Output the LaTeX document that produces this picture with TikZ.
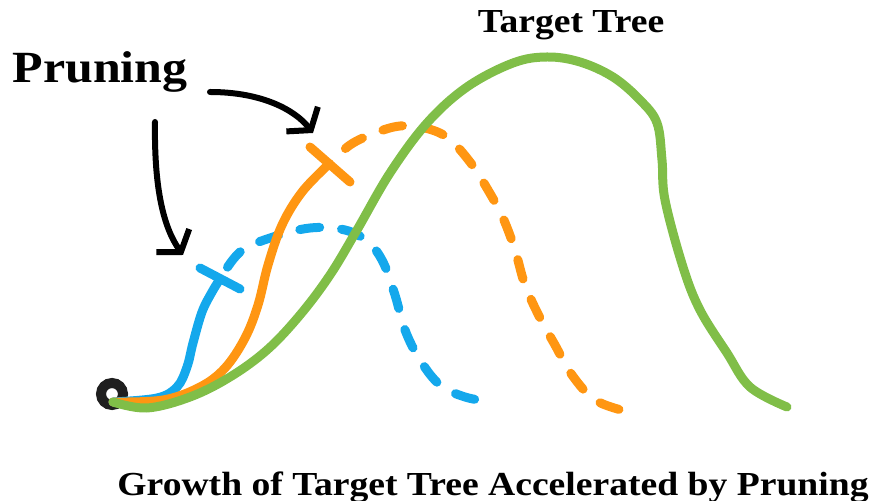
\documentclass[tikz,border=0pt]{standalone}
\usepackage{fontspec}
\setmainfont{Liberation Serif}[FakeStretch=1.12]
\usetikzlibrary{arrows.meta}

\definecolor{treeblue}{RGB}{20,168,236}
\definecolor{treeorange}{RGB}{255,150,18}
\definecolor{treegreen}{RGB}{128,190,72}

\begin{document}
\begin{tikzpicture}[x=0.5pt,y=-0.5pt,
	growth/.style={line width=4.5pt,line cap=round,line join=round},
	dashgrowth/.style={growth,dash pattern=on 10pt off 11pt,dash phase=#1},
	dashgrowth/.default=14pt,
	pointer/.style={line width=3pt,line cap=round,
		-{Straight Barb[length=7pt,width=20pt,line width=3pt]}}]
	\useasboundingbox (0,0) rectangle (887,501);

	\begin{scope}[every node/.style={inner sep=0pt,anchor=base,font=\bfseries}]
		\node[font=\fontsize{22.3}{26}\selectfont\bfseries] (prune) at (100,83) {Pruning};
		\node[font=\fontsize{16.8}{20}\selectfont\bfseries] (target) at (571,33) {Target Tree};
		\node[font=\fontsize{16.8}{20}\selectfont\bfseries] (caption) at (493,495) {Growth of Target Tree Accelerated by Pruning};
	\end{scope}

	% start point
	\draw[line width=5pt,black!88] (112,394) circle (11);
	\coordinate (seed) at (113,402);

	% pruned cuts
	\coordinate (cutA) at (220,279);
	\coordinate (cutB) at (328,165);
	\draw[growth,treeblue] (200,268) -- (240,289);
	\draw[growth,treeorange] (310,147) -- (350,182);

	% blue
	\draw[growth,treeblue] plot[smooth,tension=0.6] coordinates {(seed) (157,398) (177,387) (187,367) (193,343) (202,312) (212,292) (cutA)};
	\draw[dashgrowth,treeblue] plot[smooth,tension=0.6] coordinates {(cutA) (240,252) (270,238) (310,228) (345,230) (368,242) (383,262) (395,295) (405,330) (420,360) (440,385) (465,397) (492,402)};

	% orange
	\draw[growth,treeorange] plot[smooth,tension=0.6] coordinates {(seed) (163,400) (200,387) (225,368) (245,338) (258,305) (268,265) (282,225) (302,192) (cutB)};
	\draw[dashgrowth=9pt,treeorange] plot[smooth,tension=0.6] coordinates {(cutB) (350,145) (375,133) (400,126) (425,128) (448,138) (470,162) (488,190) (503,218) (515,250) (525,285) (540,318) (555,345) (572,375) (595,400) (625,411)};

	% green
	\draw[growth,treegreen] plot[smooth,tension=0.6] coordinates {(seed) (147,408) (190,397) (230,377) (267,350) (300,315) (330,275) (357,230) (390,173) (427,123) (467,87) (513,63) (547,57) (580,62) (613,77) (640,100) (657,123) (662,160) (665,200) (683,267) (700,310) (727,353) (750,387) (787,407)};

	% arrows
	\coordinate (armB) at (210,92);
	\coordinate (armA) at (155,122);
	\coordinate (tipB) at (313,133);
	\coordinate (tipA) at (183,255);
	\draw[pointer] (armB) .. controls (262,92) and (295,110) .. (tipB);
	\draw[pointer] (armA) .. controls (154,190) and (164,228) .. (tipA);
\end{tikzpicture}
\end{document}
